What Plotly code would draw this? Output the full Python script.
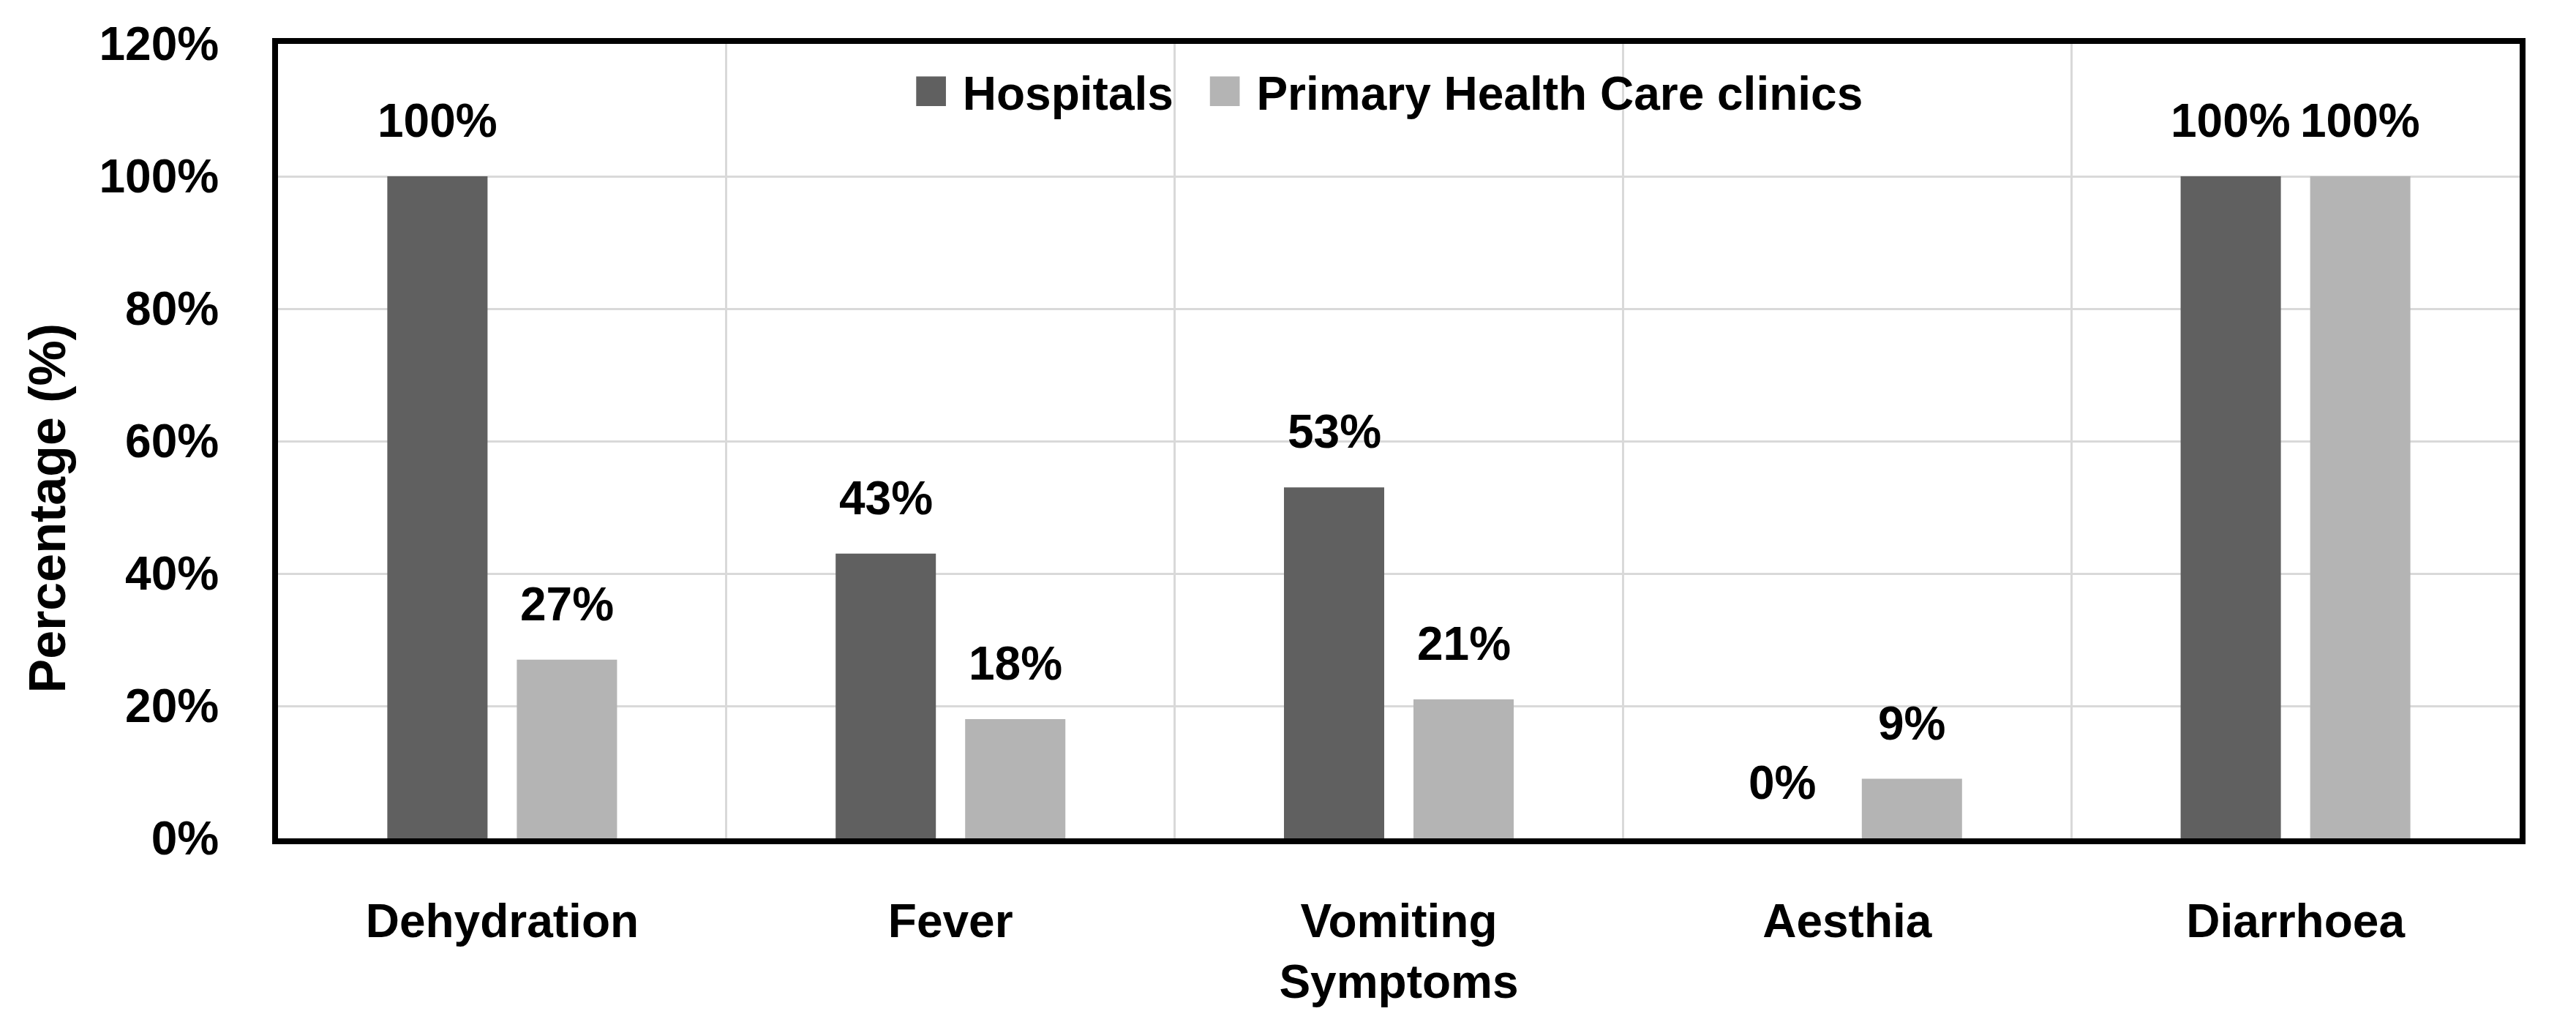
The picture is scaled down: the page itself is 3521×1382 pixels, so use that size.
import plotly.graph_objects as go

# ---- data ----
categories = ["Dehydration", "Fever", "Vomiting Symptoms", "Aesthia", "Diarrhoea"]
tick_labels = ["Dehydration", "Fever", "Vomiting<br>Symptoms", "Aesthia", "Diarrhoea"]
series_names = ["Hospitals", "Primary Health Care clinics"]
hospitals = [100, 43, 53, 0, 100]
phc_clinics = [27, 18, 21, 9, 100]
y_ticks = [0, 20, 40, 60, 80, 100, 120]
y_tick_labels = ["0%", "20%", "40%", "60%", "80%", "100%", "120%"]
y_title = "Percentage (%)"

colors = ["#606060", "#b4b4b4"]
FONT = "Liberation Sans"
FS = 64

W, H = 3521, 1382
ML, MR, MT, MB = 372, 85, 52, 221

fig = go.Figure()
for name, vals, col in zip(series_names, [hospitals, phc_clinics], colors):
    fig.add_trace(go.Bar(
        x=categories, y=vals, name=name, marker=dict(color=col, line=dict(width=0)),
        showlegend=False,
    ))

# legend entries (large square glyphs like the original)
for name, col in zip(series_names, colors):
    fig.add_trace(go.Scatter(
        x=[None], y=[None], mode="lines", line=dict(width=0, color="rgba(0,0,0,0)"),
        name=f'<span style="color:{col};font-size:84px">■</span> {name}', showlegend=True,
    ))

# data labels above bars
slot_px = 177
annotations = []
for k, vals in enumerate([hospitals, phc_clinics]):
    shift = (-0.5 if k == 0 else 0.5) * slot_px
    for c, v in zip(categories, vals):
        annotations.append(dict(
            x=c, y=v, xref="x", yref="y", text=f"{v}%", showarrow=False,
            xshift=shift, yshift=38, yanchor="bottom", xanchor="center",
            font=dict(family=FONT, size=FS, color="black", weight="bold"),
        ))

plot_h = H - MT - MB
annotations.append(dict(
    text=y_title, textangle=-90, showarrow=False,
    xref="paper", yref="paper", x=(57 - ML) / (W - ML - MR), y=(H - MB - 700) / plot_h,
    xanchor="center", yanchor="middle",
    font=dict(family=FONT, size=70, color="black", weight="bold"),
))

fig.update_layout(
    width=W, height=H,
    margin=dict(l=ML, r=MR, t=MT, b=MB, pad=0),
    paper_bgcolor="white", plot_bgcolor="white",
    bargap=0.4223, bargroupgap=0.226, barmode="group",
    font=dict(family=FONT, size=FS, color="black", weight="bold"),
    legend=dict(
        orientation="h", x=0.27, xanchor="left", y=0.94, yanchor="middle",
        bgcolor="rgba(0,0,0,0)", font=dict(family=FONT, size=FS, color="black", weight="bold"),
        itemwidth=30,
    ),
    annotations=annotations,
)
fig.update_xaxes(
    type="category", categoryorder="array", categoryarray=categories,
    tickvals=categories, ticktext=tick_labels,
    showline=True, linecolor="black", linewidth=8, mirror=True,
    showgrid=True, gridcolor="#d9d9d9", gridwidth=3, tickson="boundaries",
    ticks="", ticklabelstandoff=50,
    tickfont=dict(family=FONT, size=FS, color="black", weight="bold"),
)
fig.update_yaxes(
    range=[0, 120], tickmode="array", tickvals=y_ticks, ticktext=y_tick_labels,
    showline=True, linecolor="black", linewidth=8, mirror=True,
    showgrid=True, gridcolor="#d9d9d9", gridwidth=3, zeroline=False,
    ticks="", ticklabelstandoff=60,
    tickfont=dict(family=FONT, size=FS, color="black", weight="bold"),
)

fig.write_html("out.html")
